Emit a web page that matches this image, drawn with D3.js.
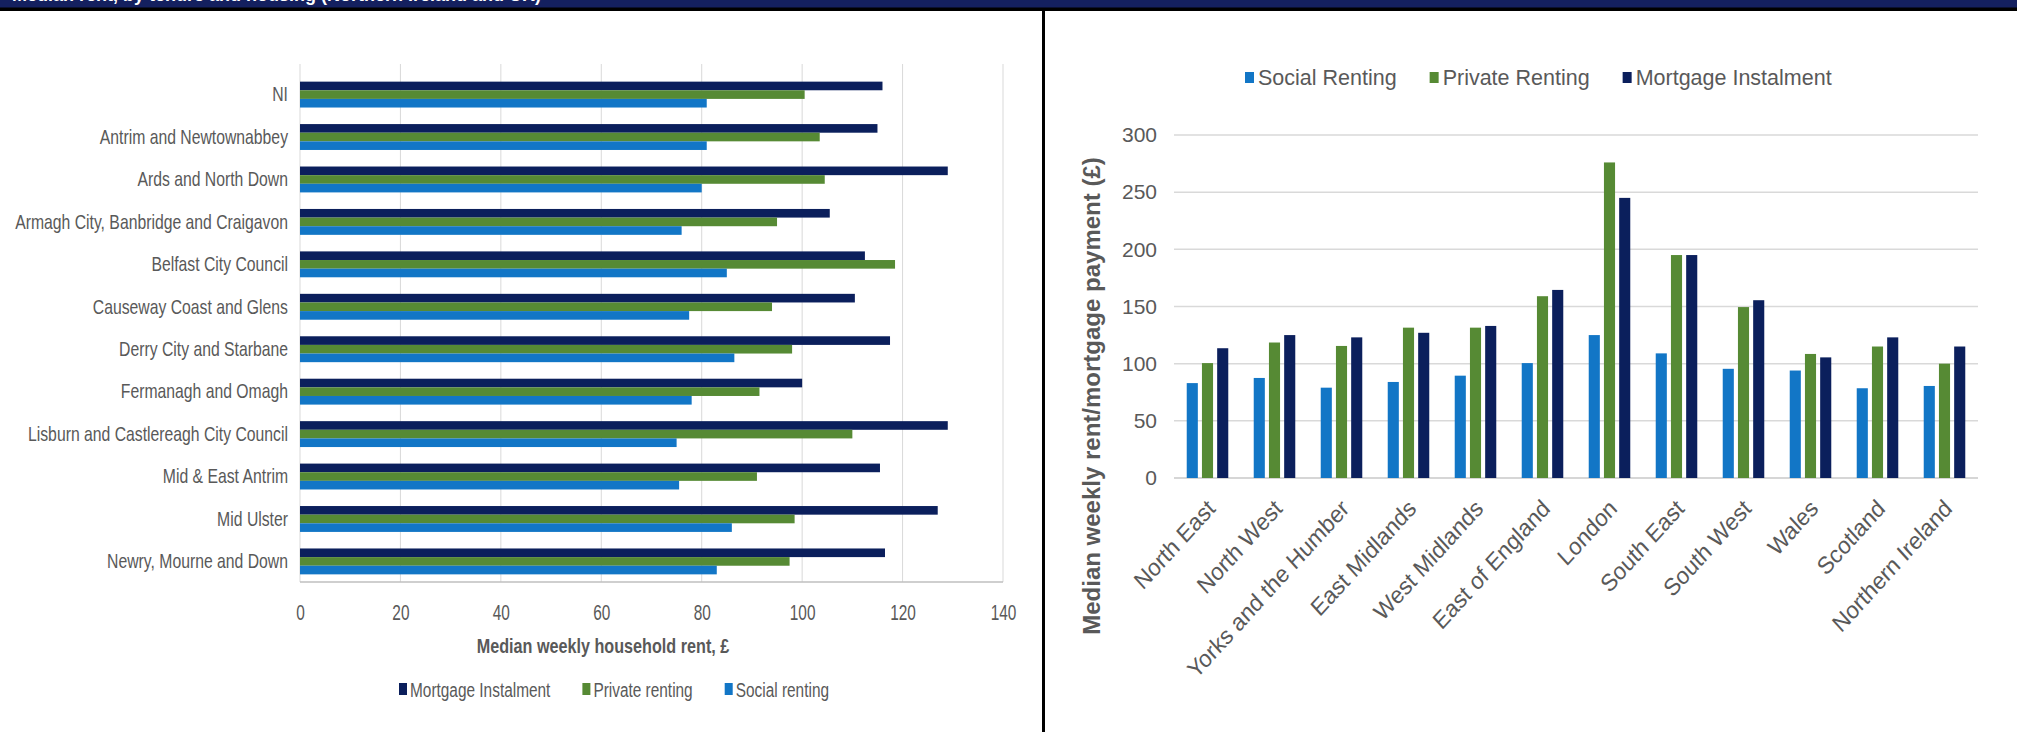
<!DOCTYPE html>
<html>
<head>
<meta charset="utf-8">
<script src="https://cdn.jsdelivr.net/npm/d3@7"></script>
<style>
  html, body { margin: 0; padding: 0; background: #fff; }
  svg { display: block; }
</style>
</head>
<body>
<svg id="chart" width="2017" height="732"></svg>
<script>
// ---- Northern Ireland council areas: median weekly household rent (£) ----
const districts = [
  "NI", "Antrim and Newtownabbey", "Ards and North Down",
  "Armagh City, Banbridge and Craigavon", "Belfast City Council",
  "Causeway Coast and Glens", "Derry City and Starbane", "Fermanagh and Omagh",
  "Lisburn and Castlereagh City Council", "Mid & East Antrim", "Mid Ulster",
  "Newry, Mourne and Down"
];
const niMortgage = [116, 115, 129, 105.5, 112.5, 110.5, 117.5, 100, 129, 115.5, 127, 116.5];
const niPrivate  = [100.5, 103.5, 104.5, 95, 118.5, 94, 98, 91.5, 110, 91, 98.5, 97.5];
const niSocial   = [81, 81, 80, 76, 85, 77.5, 86.5, 78, 75, 75.5, 86, 83];
const niTicks    = [0, 20, 40, 60, 80, 100, 120, 140];

// ---- UK regions: median weekly rent / mortgage payment (£) ----
const regions = [
  "North East", "North West", "Yorks and the Humber", "East Midlands",
  "West Midlands", "East of England", "London", "South East", "South West",
  "Wales", "Scotland", "Northern Ireland"
];
const ukSocial   = [83, 87.5, 79, 84, 89.5, 100.5, 125, 109, 95.5, 94, 78.5, 80.5];
const ukPrivate  = [100.5, 118.5, 115.5, 131.5, 131.5, 159, 276, 195, 149.5, 108.5, 115, 100];
const ukMortgage = [113.5, 125, 123, 127, 133, 164.5, 245, 195, 155.5, 105.5, 123, 115];
const ukTicks    = [0, 50, 100, 150, 200, 250, 300];

const bannerTitle = "Median rent, by tenure and housing (Northern Ireland and UK)";

// ---- shared styling ----
const colMortgage = "#0b1f5c";
const colPrivate  = "#568a34";
const colSocial   = "#1276c6";
const textGrey = "#595959";
const gridGrey = "#d9d9d9";
const font = "'Liberation Sans', Arial, sans-serif";

const svg = d3.select("#chart");

// condense horizontally drawn text (narrow chart typeface); returns new width
function condense(sel, k) {
  let w = 0;
  sel.each(function () {
    w = this.getComputedTextLength() * k;
    d3.select(this).attr("textLength", w).attr("lengthAdjust", "spacingAndGlyphs");
  });
  return w;
}

// ---- page banner and frame ----
svg.append("defs").append("clipPath").attr("id", "bannerClip")
  .append("rect").attr("x", 0).attr("y", 0).attr("width", 2017).attr("height", 7.5);
svg.append("rect").attr("x", 0).attr("y", 0).attr("width", 2017).attr("height", 8)
  .attr("fill", "#14205f");
svg.append("text").attr("clip-path", "url(#bannerClip)")
  .attr("x", 12).attr("y", 0.5)
  .attr("font-family", font).attr("font-weight", "bold").attr("font-size", 18)
  .attr("fill", "#fff").text(bannerTitle);
svg.append("rect").attr("x", 0).attr("y", 7.5).attr("width", 2017).attr("height", 3.5)
  .attr("fill", "#000");
svg.append("rect").attr("x", 1042).attr("y", 8).attr("width", 3).attr("height", 724)
  .attr("fill", "#000");

// =================== left chart: horizontal grouped bars ===================
const left = svg.append("g");
const xL = d3.scaleLinear().domain([0, 140]).range([300, 1003]);
const yL = d3.scaleBand().domain(districts).range([74, 582])
  .paddingInner(0.39).paddingOuter(0.18);
const leftSeries = [
  { key: "Mortgage Instalment", values: niMortgage, color: colMortgage },
  { key: "Private renting",     values: niPrivate,  color: colPrivate },
  { key: "Social renting",      values: niSocial,   color: colSocial }
];
const ySub = d3.scaleBand().domain(leftSeries.map(s => s.key)).range([0, yL.bandwidth()]);

// vertical gridlines
left.append("g").selectAll("line").data(niTicks).join("line")
  .attr("x1", d => xL(d)).attr("x2", d => xL(d))
  .attr("y1", 64).attr("y2", 582)
  .attr("stroke", gridGrey).attr("stroke-width", 1);

// bars
leftSeries.forEach(s => {
  left.append("g").selectAll("rect").data(districts).join("rect")
    .attr("x", xL(0))
    .attr("y", d => yL(d) + ySub(s.key))
    .attr("width", (d, i) => xL(s.values[i]) - xL(0))
    .attr("height", ySub.bandwidth())
    .attr("fill", s.color);
});

// baseline
left.append("line").attr("x1", xL(0)).attr("x2", xL(140)).attr("y1", 582).attr("y2", 582)
  .attr("stroke", "#bfbfbf").attr("stroke-width", 1.5);

// value axis
const xAxisL = left.append("g").attr("transform", "translate(0,582)")
  .call(d3.axisBottom(xL).tickValues(niTicks).tickSize(0).tickPadding(22));
xAxisL.select(".domain").remove();
xAxisL.selectAll("text").attr("font-family", font).attr("font-size", 22).attr("fill", textGrey);
xAxisL.selectAll("text").each(function () { condense(d3.select(this), 0.7); });

// category axis
const yAxisL = left.append("g").attr("transform", "translate(288,0)")
  .call(d3.axisLeft(yL).tickSize(0).tickPadding(0));
yAxisL.select(".domain").remove();
yAxisL.selectAll("text").attr("font-family", font).attr("font-size", 21).attr("fill", textGrey);
yAxisL.selectAll("text").each(function () { condense(d3.select(this), 0.75); });

// axis title
const titleL = left.append("text")
  .attr("x", 603).attr("y", 653).attr("text-anchor", "middle")
  .attr("font-family", font).attr("font-weight", "bold").attr("font-size", 21)
  .attr("fill", textGrey).text("Median weekly household rent, £");
condense(titleL, 0.77);

// legend
const legL = left.append("g").attr("transform", "translate(399,690)");
let lx = 0;
leftSeries.forEach(s => {
  const item = legL.append("g").attr("transform", `translate(${lx},0)`);
  item.append("rect").attr("x", 0).attr("y", -7).attr("width", 8).attr("height", 12)
    .attr("fill", s.color);
  const t = item.append("text").attr("x", 11).attr("y", 7)
    .attr("font-family", font).attr("font-size", 20).attr("fill", textGrey).text(s.key);
  const w = condense(t, 0.77);
  lx += 11 + w + 32;
});

// =================== right chart: vertical grouped columns ===================
const right = svg.append("g");
const xR = d3.scaleBand().domain(regions).range([1174, 1978])
  .paddingInner(0.38).paddingOuter(0.19);
const yR = d3.scaleLinear().domain([0, 300]).range([478, 135]);
const rightSeries = [
  { key: "Social Renting",      values: ukSocial,   color: colSocial },
  { key: "Private Renting",     values: ukPrivate,  color: colPrivate },
  { key: "Mortgage Instalment", values: ukMortgage, color: colMortgage }
];
const xSub = d3.scaleBand().domain(rightSeries.map(s => s.key)).range([0, xR.bandwidth()])
  .paddingInner(0.27);

// horizontal gridlines
right.append("g").selectAll("line").data(ukTicks).join("line")
  .attr("x1", 1174).attr("x2", 1978)
  .attr("y1", d => yR(d)).attr("y2", d => yR(d))
  .attr("stroke", d => d === 0 ? "#c8c8c8" : gridGrey).attr("stroke-width", 1.5);

// columns
rightSeries.forEach(s => {
  right.append("g").selectAll("rect").data(regions).join("rect")
    .attr("x", d => xR(d) + xSub(s.key))
    .attr("y", (d, i) => yR(s.values[i]))
    .attr("width", xSub.bandwidth())
    .attr("height", (d, i) => yR(0) - yR(s.values[i]))
    .attr("fill", s.color);
});

// value axis
const yAxisR = right.append("g").attr("transform", "translate(1157,0)")
  .call(d3.axisLeft(yR).tickValues(ukTicks).tickSize(0).tickPadding(0));
yAxisR.select(".domain").remove();
yAxisR.selectAll("text").attr("font-family", font).attr("font-size", 21).attr("fill", textGrey);

// category labels, slanted
right.append("g").selectAll("text").data(regions).join("text")
  .attr("transform", d =>
    `translate(${xR(d) + xR.bandwidth() / 2 + 9},${yR(0) + 32}) scale(1,1.1) rotate(-45)`)
  .attr("text-anchor", "end")
  .attr("font-family", font).attr("font-size", 22).attr("fill", textGrey)
  .text(d => d);

// axis title
right.append("text")
  .attr("transform", `translate(1100,396) rotate(-90)`)
  .attr("text-anchor", "middle")
  .attr("font-family", font).attr("font-weight", "bold").attr("font-size", 24)
  .attr("fill", textGrey).text("Median weekly rent/mortgage payment (£)");

// legend
const legR = right.append("g").attr("transform", "translate(1245,78)");
let rx = 0;
rightSeries.forEach(s => {
  const item = legR.append("g").attr("transform", `translate(${rx},0)`);
  item.append("rect").attr("x", 0).attr("y", -6).attr("width", 9).attr("height", 11)
    .attr("fill", s.color);
  const t = item.append("text").attr("x", 13).attr("y", 7)
    .attr("font-family", font).attr("font-size", 21.5).attr("fill", textGrey).text(s.key);
  rx += 13 + t.node().getComputedTextLength() + 33;
});
</script>
</body>
</html>
